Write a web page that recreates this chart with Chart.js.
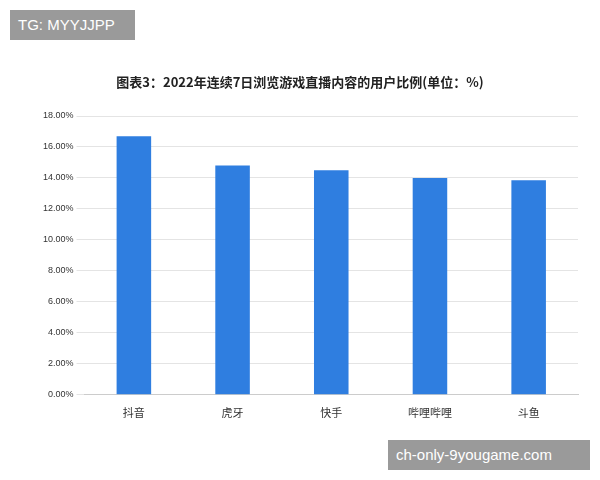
<!DOCTYPE html>
<html><head><meta charset="utf-8">
<script src="https://cdn.jsdelivr.net/npm/chart.js@4/dist/chart.umd.min.js"></script>
<style>
body{margin:0;background:#fff;font-family:"Noto Sans CJK SC",sans-serif}
#wrap{position:absolute;left:0;top:0;width:600px;height:480px}
#title{position:absolute;left:0;width:600px;top:72px;text-align:center;font-size:13px;font-weight:bold;color:#222}
.tag{position:absolute;background:#9a9a9a;color:#fff;font-family:"Liberation Sans",sans-serif;font-size:15px;line-height:30px;padding:0 8px}
</style></head><body>
<div id="wrap"><canvas id="c" width="600" height="480"></canvas></div>
<div id="title">图表3：2022年连续7日浏览游戏直播内容的用户比例(单位：%)</div>
<div class="tag" style="left:10px;top:10px;width:109px">TG: MYYJJPP</div>
<div class="tag" style="left:388px;top:440px;width:186px">ch-only-9yougame.com</div>
<script>
const categories=["抖音","虎牙","快手","哔哩哔哩","斗鱼"];
const values=[16.7,14.8,14.5,14.0,13.85];
new Chart(document.getElementById('c'),{type:'bar',
data:{labels:categories,datasets:[{data:values,backgroundColor:'#2f7ee0',barPercentage:0.35,categoryPercentage:1}]},
options:{responsive:false,animation:false,
layout:{padding:{left:40,right:22,top:116,bottom:58}},
plugins:{legend:{display:false},tooltip:{enabled:false}},
scales:{x:{grid:{display:false},border:{color:'#ccc'},ticks:{color:'#333',font:{size:11,family:'Noto Sans CJK SC'}}},
y:{min:0,max:18,border:{display:false},grid:{color:'#e4e4e4'},ticks:{stepSize:2,color:'#333',font:{size:9,family:'Liberation Sans'},callback:v=>v.toFixed(2)+'%'}}}}});
</script></body></html>
